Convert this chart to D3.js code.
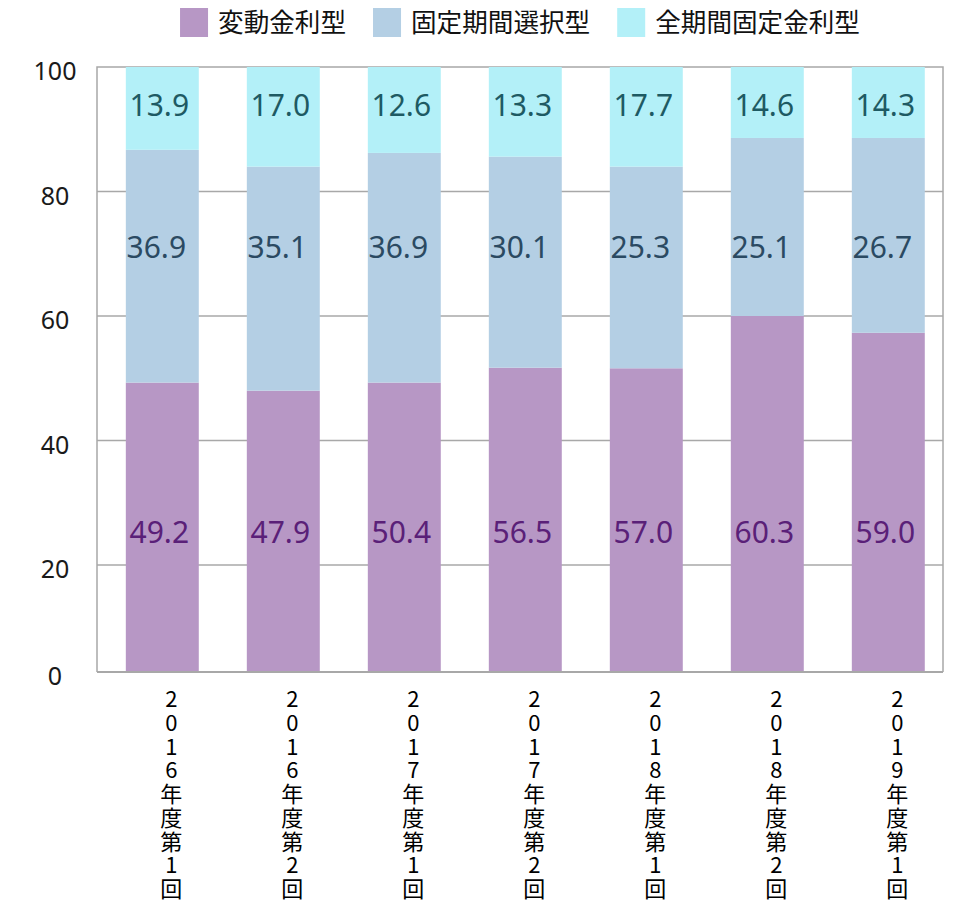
<!DOCTYPE html>
<html><head><meta charset="utf-8">
<script src="https://cdn.jsdelivr.net/npm/d3@7"></script>
<style>body{margin:0;background:#fff}</style>
</head><body>
<svg id="c" width="960" height="924"></svg>
<script>
// ---- data ----
const categories = ["2016年度第1回","2016年度第2回","2017年度第1回","2017年度第2回","2018年度第1回","2018年度第2回","2019年度第1回"];
const seriesNames = ["変動金利型","固定期間選択型","全期間固定金利型"];
// segment heights as drawn in the picture
const variableRate = [49.3, 48.0, 49.3, 51.7, 51.6, 60.0, 57.3];
const fixedSelect  = [37.4, 36.0, 36.9, 33.9, 32.4, 28.6, 31.3];
const fullFixed    = [13.3, 16.0, 13.8, 14.4, 16.0, 11.4, 11.4];
// printed data labels
const labelsVariable = ["49.2","47.9","50.4","56.5","57.0","60.3","59.0"];
const labelsSelect   = ["36.9","35.1","36.9","30.1","25.3","25.1","26.7"];
const labelsFixed    = ["13.9","17.0","12.6","13.3","17.7","14.6","14.3"];
const yTicks = [0,20,40,60,80,100];

const colors = ["#b797c5","#b4cfe4","#b3f0f8"];
const labelColors = ["#5a2078","#2b4a62","#1e5a63"];

const svg = d3.select("#c");
const plot = {left:97, right:943, top:67, bottom:672};

const x = d3.scaleBand().domain(categories).range([101.8, 948.8]).paddingInner(0.397).paddingOuter(0.1985);
const y = d3.scaleLinear().domain([0,20,100]).range([plot.bottom, 565, plot.top]);

// gridlines
svg.append("g").selectAll("line").data(yTicks.filter(t=>t>0 && t<100)).join("line")
  .attr("x1",plot.left).attr("x2",plot.right)
  .attr("y1",d=>y(d)).attr("y2",d=>y(d))
  .attr("stroke","#a8a8a8").attr("stroke-width",1.5);
// frame
svg.append("path")
  .attr("d",`M${plot.left},${plot.bottom}V${plot.top}H${plot.right}V${plot.bottom}`)
  .attr("fill","none").attr("stroke","#a8a8a8").attr("stroke-width",1.5);

// stacked bars
const rows = categories.map((c,i)=>({cat:c, v0:variableRate[i], v1:fixedSelect[i], v2:fullFixed[i]}));
const stack = d3.stack().keys(["v0","v1","v2"])(rows);
svg.append("g").selectAll("g").data(stack).join("g")
  .attr("fill",(d,i)=>colors[i])
  .selectAll("rect").data(d=>d).join("rect")
  .attr("x",d=>x(d.data.cat)).attr("width",x.bandwidth())
  .attr("y",d=>y(d[1])).attr("height",d=>y(d[0])-y(d[1]));

// bottom axis line
svg.append("line").attr("x1",plot.left).attr("x2",plot.right)
  .attr("y1",plot.bottom).attr("y2",plot.bottom)
  .attr("stroke","#a8a8a8").attr("stroke-width",2);

// value labels
const labelSets = [
  {vals:labelsVariable, y:532, dx:-3, color:labelColors[0]},
  {vals:labelsSelect,   y:247.5, dx:-6, color:labelColors[1]},
  {vals:labelsFixed,    y:105.5, dx:-3, color:labelColors[2]},
];
labelSets.forEach(s=>{
  svg.append("g").selectAll("text").data(s.vals).join("text")
    .attr("x",(d,i)=>x(categories[i])+x.bandwidth()/2+s.dx)
    .attr("y",s.y).attr("dy","0.36em")
    .attr("text-anchor","middle")
    .attr("font-family","'Noto Sans', sans-serif").attr("font-size",30)
    .attr("fill",s.color).text(d=>d);
});

// y tick labels
svg.append("g").selectAll("text").data(yTicks).join("text")
  .attr("x",55).attr("y",d=>y(d)+4).attr("dy","0.36em")
  .attr("text-anchor","middle")
  .attr("font-family","'Noto Sans', sans-serif").attr("font-size",25)
  .attr("fill","#1a1a1a").text(d=>d);

// x labels (vertical, upright characters)
svg.append("g").selectAll("text").data(categories).join("text")
  .attr("x",d=>x(d)+x.bandwidth()/2+9)
  .attr("y",688)
  .style("writing-mode","vertical-rl")
  .style("text-orientation","upright")
  .style("letter-spacing","1.7px")
  .attr("font-family","'Noto Sans CJK JP', sans-serif").attr("font-size",22)
  .attr("fill","#000").attr("text-anchor","start")
  .text(d=>d);

// legend
const leg = svg.append("g");
let lx = 0;
seriesNames.forEach((n,i)=>{
  const g = leg.append("g").attr("transform",`translate(${lx},0)`);
  g.append("rect").attr("x",0).attr("y",8).attr("width",28).attr("height",29).attr("fill",colors[i]);
  const t = g.append("text").attr("x",38).attr("y",23).attr("dy","0.36em")
    .attr("font-family","'Noto Sans CJK JP', sans-serif").attr("font-size",25.6)
    .attr("fill","#111").text(n);
  lx += 38 + t.node().getComputedTextLength() + 27;
});
const legW = lx - 27;
leg.attr("transform",`translate(${(plot.left+plot.right)/2 - legW/2},0)`);
</script>
</body></html>
